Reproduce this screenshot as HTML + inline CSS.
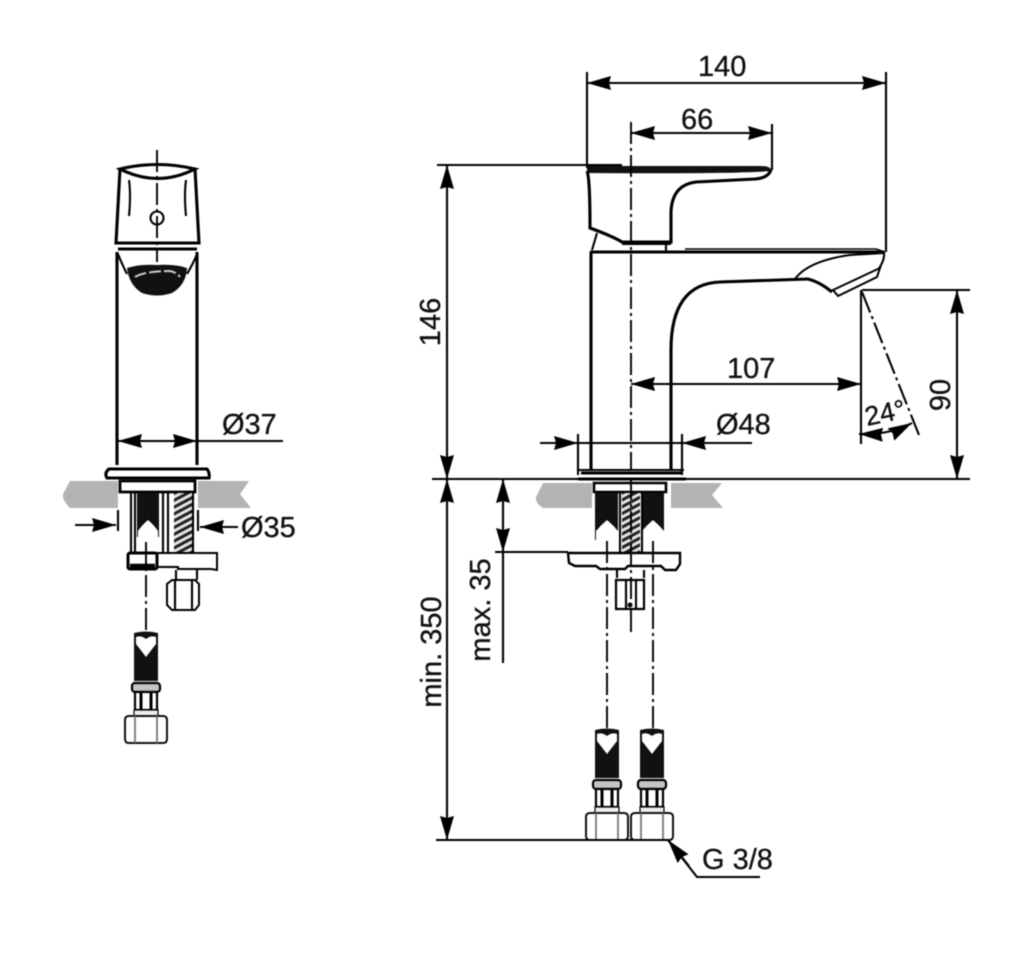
<!DOCTYPE html>
<html><head><meta charset="utf-8"><style>
html,body{margin:0;padding:0;background:#fff;width:1024px;height:969px;overflow:hidden}
svg{display:block;filter:blur(.5px)}
text{font-family:"Liberation Sans",sans-serif;font-size:29px;fill:#111;stroke:#111;stroke-width:.35}
.l{fill:none;stroke:#000;stroke-width:2.1}
.t{fill:none;stroke:#000;stroke-width:1.5}
.k{fill:none;stroke:#000;stroke-width:3.1}
.c{fill:none;stroke:#000;stroke-width:1.9;stroke-dasharray:22 4 3 4}
.d{fill:#111;stroke:none}
.w{fill:#fff;stroke:#000;stroke-width:2}
.g{fill:#b3b3b3;stroke:none}
</style></head><body>
<svg width="1024" height="969" viewBox="0 0 1024 969" xmlns="http://www.w3.org/2000/svg">
<defs>
<pattern id="h" width="6" height="6" patternUnits="userSpaceOnUse" patternTransform="rotate(-28)"><rect width="6" height="6" fill="#e4e4e4"/><rect width="6" height="3" fill="#222"/></pattern>
<marker id="a" viewBox="0 0 24 14" refX="24" refY="7" markerWidth="24" markerHeight="14" markerUnits="userSpaceOnUse" orient="auto-start-reverse"><path d="M0 0L24 7L0 14L2 7Z" fill="#000"/></marker>
<g id="hose">
<path class="d" d="M-12 1Q0-2 12 1V49H-12Z"/>
<path fill="#fff" d="M-10 5Q-5 3 0 7Q5 3 10 5V12L0 25L-10 12Z"/>
<rect x="-14" y="51" width="28" height="9" rx="3" fill="#c4c4c4" stroke="#000" stroke-width="2.2"/>
<rect x="-11" y="60" width="22" height="18" fill="#fff" stroke="#000" stroke-width="2.2"/>
<path d="M-5 60V78M5 60V78" stroke="#000" stroke-width="3"/>
<rect x="-12" y="78" width="24" height="6" fill="#eee" stroke="#000" stroke-width="1.2"/>
<path d="M-17 84H17Q21 84 21 88V107Q21 111 17 111H-17Q-21 111-21 107V88Q-21 84-17 84Z" fill="#fff" stroke="#111" stroke-width="2"/>
<path d="M-11 84V111M11 84V111" stroke="#777" stroke-width="1.8"/>
</g>
<g id="cart">
<path class="d" d="M-11 0H11V44H-11Z"/>
</g>
</defs>

<!-- Left view -->
<path class="g" d="M70 481H118V508H70Q62 500 63 494Z"/>
<path class="g" d="M198 481H249L240 494L251 508H198Z"/>
<path class="k" stroke-width="2.4" d="M120 169L116 243H199L195 169"/>
<path class="k" d="M120 169Q157 160 195 169Q157 188 120 169Z"/>
<path class="l" d="M129 180Q131 195 129 216M186 180Q184 195 186 216"/>
<path class="k" d="M117 243H198M118 249H197"/>
<circle class="l" cx="157" cy="218" r="6.5"/>
<path class="k" stroke-width="2.6" d="M117 252V465M197 252V465"/>
<path class="l" d="M118 254Q121 262 127 274M197 254Q194 262 187 274"/>
<path class="d" d="M127 268Q140 264 157 265Q175 264 187 268Q186 285 172 293Q157 298 142 293Q129 285 127 268Z"/>
<path d="M135 277Q145 271 170 271Q176 272 180 277" fill="none" stroke="#ccc" stroke-width="2" stroke-dasharray="12 3"/>
<path class="c" d="M157 150V262"/>
<path class="k" d="M109 469H207Q210 473 209 478H107Q104 473 109 469Z"/>
<path fill="#fff" stroke="#000" stroke-width="2.8" d="M120 481H195V492H120Z"/>
<path class="l" d="M131 492V552M135 492V552M163 492V552M168 492V552M193 492V552"/>
<rect x="137" y="493" width="22" height="44" fill="#111"/>
<path fill="#fff" d="M148 520Q142 525 138 531V541Q140 544 144 543L148 541L152 543Q157 544 158 541V531Q154 525 148 520Z"/>
<rect x="174" y="493" width="18" height="59" fill="url(#h)"/>
<path class="w" stroke-width="2.4" d="M157 553H217V570L211 569H178V567H157Z"/>
<rect x="128" y="553" width="29" height="16" rx="2" fill="#fff" stroke="#000" stroke-width="3"/>
<path d="M130 566H155" stroke="#000" stroke-width="4.5"/>
<path class="l" d="M176 570V580M197 570V580"/>
<path class="w" stroke-width="2.4" d="M172 580H195L199 584V605L195 610H172L167 605V584Z"/>
<path class="l" d="M175 580V610M192 580V610"/>
<path class="c" stroke-dasharray="16 3 2 3" d="M146 542V630"/>
<use href="#hose" x="146" y="632"/>
<path class="l" d="M118 441H283"/>
<path class="l" d="M118 441H197" marker-start="url(#a)" marker-end="url(#a)"/>
<text x="222" y="434">Ø37</text>
<path class="l" d="M118 510V531M198 510V531"/>
<path class="l" d="M75 525H116" marker-end="url(#a)"/>
<path class="l" d="M238 527H200" marker-end="url(#a)"/>
<text x="241" y="537">Ø35</text>

<!-- Right view -->
<path class="g" d="M543 483H592V508H543Q535 503 536 497Z"/>
<path class="g" d="M671 483H722L712 495L723 508H671Z"/>
<!-- handle -->
<path d="M587 166H760Q772 166 771 171Q740 174 587 173Z" fill="#111"/>
<path class="k" stroke-width="2.4" d="M587 171Q590 178 590 228Q612 236 622 242H671V212Q672 185 696 182L755 179Q768 178 771 170"/>
<path class="l" d="M592 250L597 233M666 243V251"/>
<path class="l" d="M622 244H671"/>
<!-- body -->
<path class="k" d="M590 252H884"/>
<path class="t" d="M685 249H876L885 252"/>
<path class="k" stroke-width="2.6" d="M591 252V470M671 470V350Q671 284 720 282L808 279Q820 282 832 292"/>
<path class="l" d="M795 279Q808 261 850 255L884 253Q885 260 878 270"/>
<path class="w" d="M833 290L880 268L877 277L838 296Z"/>
<!-- base -->
<path class="k" d="M581 473H683M578 479H686"/>
<path class="l" d="M578 470H684"/>
<path fill="#fff" stroke="#000" stroke-width="2.6" d="M594 483H666V492H594Z"/>
<path class="d" d="M595 493H618V540H595ZM642 493H664V540H642Z"/>
<path fill="#fff" d="M607 520Q601 525 596 531V541Q598 544 602 543L606 541L610 543Q616 544 618 541V531Q613 525 607 520ZM653 520Q647 525 642 531V541Q644 544 648 543L652 541L656 543Q662 544 664 541V531Q659 525 653 520Z"/>
<rect x="622" y="493" width="18" height="59" fill="url(#h)"/>
<path class="l" d="M620 493V552M642 493V552"/>
<path fill="#fff" stroke="#000" stroke-width="2.4" d="M568 553H680V564L676 570H665L661 566H628L625 569H600L596 566H575L569 563Z"/>
<path class="l" d="M617 570V578M644 570V578"/>
<rect x="616" y="580" width="28" height="29" fill="#fff" stroke="#000" stroke-width="2.2"/>
<path class="l" d="M626 580V609M636 580V609"/>
<circle cx="630" cy="605" r="2.5" fill="#000"/>
<path class="c" d="M631 122V470"/>
<path class="c" d="M631 478V632"/>
<path class="c" stroke-dasharray="16 3 2 3" d="M607 541V730M653 541V730"/>
<use href="#hose" x="607" y="729"/>
<use href="#hose" x="652" y="729"/>

<!-- Dimensions -->
<path class="l" d="M587 72V168M886 72V252"/>
<path class="l" d="M587 83H886" marker-start="url(#a)" marker-end="url(#a)"/>
<text x="698" y="76">140</text>
<path class="l" d="M772 124V170"/>
<path class="l" d="M631 133H772" marker-start="url(#a)" marker-end="url(#a)"/>
<text x="681" y="129">66</text>
<path class="l" d="M437 165H622"/>
<path class="l" d="M447 165V479" marker-start="url(#a)" marker-end="url(#a)"/>
<text transform="translate(440 322) rotate(-90)" text-anchor="middle">146</text>
<path class="l" d="M432 479H970"/>
<path class="l" d="M447 479V840" marker-start="url(#a)" marker-end="url(#a)"/>
<text transform="translate(441 652) rotate(-90)" text-anchor="middle">min. 350</text>
<path class="l" d="M436 840H668"/>
<path class="l" d="M503 479V552" marker-start="url(#a)" marker-end="url(#a)"/>
<path class="l" d="M503 552V663M495 552H568"/>
<text transform="translate(490 610) rotate(-90)" text-anchor="middle">max. 35</text>
<path class="l" d="M578 434V475M682 434V475"/>
<path class="l" d="M540 443H682"/>
<path class="l" d="M540 443H578" marker-end="url(#a)"/>
<path class="l" d="M752 443H682" marker-end="url(#a)"/>
<text x="716" y="434">Ø48</text>
<path class="l" d="M631 384H861" marker-start="url(#a)" marker-end="url(#a)"/>
<text x="727" y="378">107</text>
<path class="l" d="M861 290V444"/>
<path class="l" stroke-dasharray="22 4 3 4" d="M862 292L919 435"/>
<path class="l" d="M859 434Q890 435 912 423" marker-start="url(#a)" marker-end="url(#a)"/>
<text transform="translate(867 426) rotate(-12)" style="font-size:27px">24°</text>
<path class="l" d="M862 290H970"/>
<path class="l" d="M957 290V479" marker-start="url(#a)" marker-end="url(#a)"/>
<text transform="translate(950 395) rotate(-90)" text-anchor="middle">90</text>
<path class="l" d="M668 840L697 877H760"/>
<path class="l" d="M689 866L668 840" marker-end="url(#a)"/>
<text x="702" y="869">G 3/8</text>
</svg>
</body></html>
